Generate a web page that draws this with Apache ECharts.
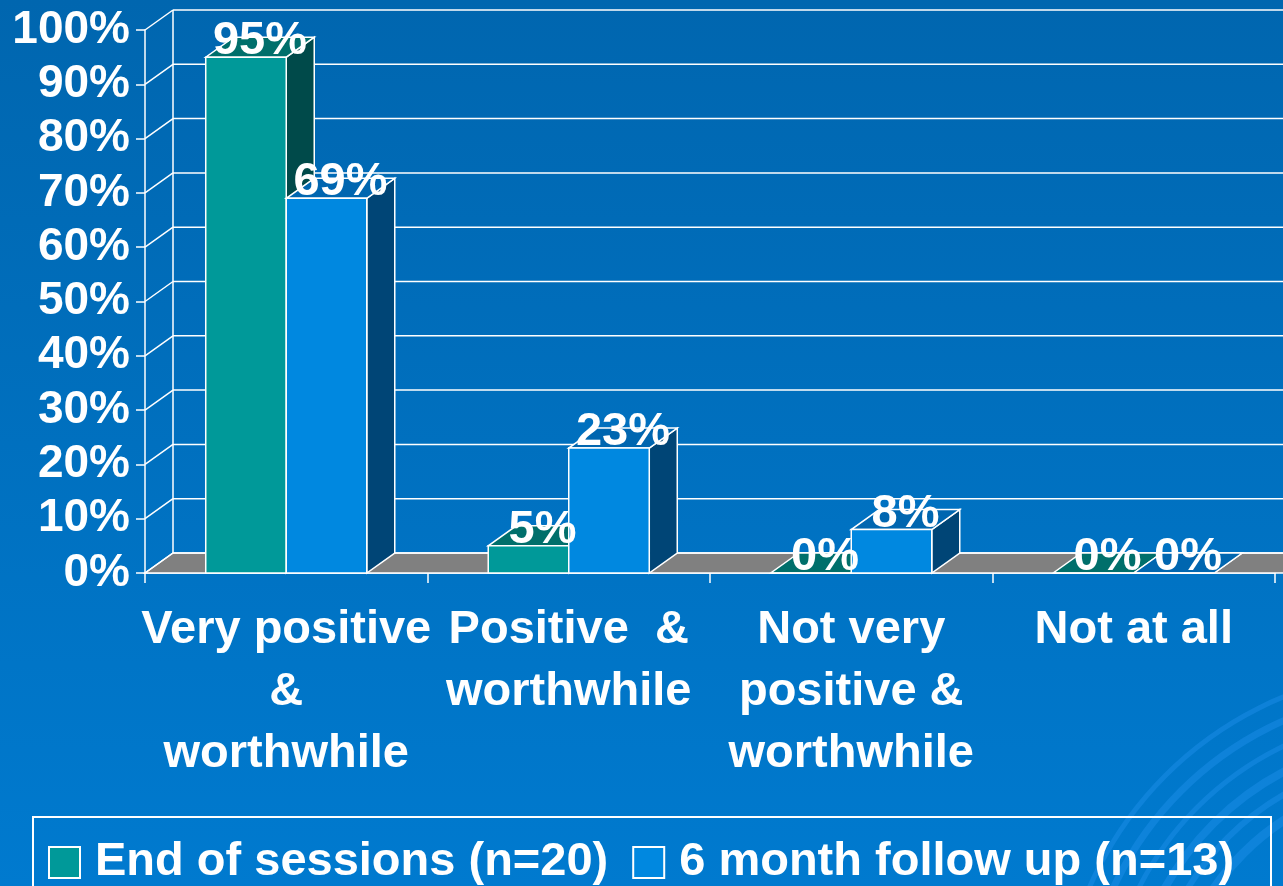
<!DOCTYPE html>
<html>
<head>
<meta charset="utf-8">
<script src="https://cdn.jsdelivr.net/npm/echarts@6/dist/echarts.min.js"></script>
<style>
html,body{margin:0;padding:0;width:1283px;height:886px;overflow:hidden;background:#006fbf;}
#chart{width:1283px;height:886px;}
</style>
</head>
<body>
<div id="chart"></div>
<script>
// ---- data ----
const categories = ['Very positive\n&\nworthwhile', 'Positive  &\nworthwhile', 'Not very\npositive &\nworthwhile', 'Not at all'];
const seriesNames = ['End of sessions (n=20)', '6 month follow up (n=13)'];
const endOfSessions = [95, 5, 0, 0];
const followUp = [69, 23, 8, 0];
const yTicks = [0, 10, 20, 30, 40, 50, 60, 70, 80, 90, 100];

// ---- style ----
const DX = 28, DY = -20;
const FONT = 'Liberation Sans, Arial, sans-serif';
const palettes = [
  { front: '#009999', top: '#006F6B', side: '#004A4A' },
  { front: '#0088E0', top: '#0066B0', side: '#004576' }
];

function barRenderer(si) {
  return function (params, api) {
    const idx = api.value(0), val = api.value(1);
    const base = api.coord([idx, 0]);
    const top = api.coord([idx, val]);
    const cw = api.size([1, 0])[0];
    const bw = cw * 0.285;
    const x = base[0] + (si === 0 ? -bw : 0);
    const yT = top[1], yB = base[1];
    const pal = palettes[si];
    const stroke = { stroke: '#ffffff', lineWidth: 1.5, lineJoin: 'miter' };
    return {
      type: 'group',
      children: [
        { type: 'polygon', z2: 10 + si, shape: { points: [[x + bw, yT], [x + bw + DX, yT + DY], [x + bw + DX, yB + DY], [x + bw, yB]] }, style: Object.assign({ fill: pal.side }, stroke) },
        { type: 'polygon', z2: 10 + si, shape: { points: [[x, yT], [x + bw, yT], [x + bw + DX, yT + DY], [x + DX, yT + DY]] }, style: Object.assign({ fill: pal.top }, stroke) },
        { type: 'rect', z2: 10 + si, shape: { x: x, y: yT, width: bw, height: yB - yT }, style: Object.assign({ fill: pal.front }, stroke) },
        { type: 'text', z2: 100, style: { text: val + '%', x: x + bw / 2 + DX / 2, y: yT - 16, align: 'center', verticalAlign: 'middle', fill: '#ffffff', font: 'bold 47px ' + FONT } }
      ]
    };
  };
}

function wallRenderer(params, api) {
  const cs = params.coordSys;
  const left = cs.x, right = cs.x + cs.width;
  const v = api.value(1);
  const y = api.coord([0, v])[1];
  const line = { stroke: '#ffffff', lineWidth: 1.5 };
  const children = [];
  if (v === 0) {
    const yTop = api.coord([0, yTicks[yTicks.length - 1]])[1];
    children.push({ type: 'polygon', z2: 1, shape: { points: [[left, y], [right + 60, y], [right + 60 + DX, y + DY], [left + DX, y + DY]] }, style: Object.assign({ fill: '#808080' }, line) });
    children.push({ type: 'line', z2: 2, shape: { x1: left + DX, y1: y + DY, x2: left + DX, y2: yTop + DY }, style: line });
  }
  children.push({ type: 'line', z2: 2, shape: { x1: left, y1: y, x2: left + DX, y2: y + DY }, style: line });
  children.push({ type: 'line', z2: 2, shape: { x1: left + DX, y1: y + DY, x2: right + DX + 60, y2: y + DY }, style: line });
  return { type: 'group', children: children };
}

const chart = echarts.init(document.getElementById('chart'), null, { renderer: 'canvas' });

const swirl = [];
[[250, 9], [272, 6], [292, 8], [315, 5], [338, 7], [360, 5]].forEach(function (a) {
  swirl.push({
    type: 'arc', silent: true, z: -10,
    shape: { cx: 1420, cy: 1030, r: a[0], startAngle: Math.PI * 1.05, endAngle: Math.PI * 1.45 },
    style: { stroke: 'rgba(30,145,235,0.45)', lineWidth: a[1], fill: null }
  });
});

chart.setOption({
  backgroundColor: {
    type: 'linear', x: 0, y: 0, x2: 0, y2: 1,
    colorStops: [{ offset: 0, color: '#0066AF' }, { offset: 1, color: '#007ACF' }]
  },
  animation: false,
  textStyle: { fontFamily: FONT },
  grid: { left: 145, right: 8, top: 30, bottom: 313, containLabel: false },
  xAxis: {
    type: 'category',
    data: categories,
    axisLine: { show: true, lineStyle: { color: '#ffffff', width: 1.5 } },
    axisTick: { show: true, length: 10, lineStyle: { color: '#ffffff', width: 1.5 } },
    axisLabel: { interval: 0, color: '#ffffff', fontSize: 47, fontWeight: 'bold', fontFamily: FONT, lineHeight: 62, margin: 26 },
    splitLine: { show: false }
  },
  yAxis: {
    type: 'value', min: 0, max: 100, interval: 10,
    axisLine: { show: true, lineStyle: { color: '#ffffff', width: 1.5 } },
    axisTick: { show: true, length: 9, lineStyle: { color: '#ffffff', width: 1.5 } },
    axisLabel: { formatter: '{value}%', color: '#ffffff', fontSize: 46, fontWeight: 'bold', fontFamily: FONT, margin: 15 },
    splitLine: { show: false }
  },
  legend: {
    left: 48, top: 839,
    itemWidth: 31, itemHeight: 31, itemGap: 24,
    padding: 0,
    icon: 'rect',
    itemStyle: { borderColor: '#ffffff', borderWidth: 2 },
    textStyle: { color: '#ffffff', fontSize: 47, fontWeight: 'bold', fontFamily: FONT, lineHeight: 32, padding: [0, 0, 0, 10] },
    data: seriesNames
  },
  graphic: swirl.concat([
    { type: 'rect', silent: true, z: -5, shape: { x: 33, y: 817, width: 1238, height: 100 }, style: { fill: null, stroke: '#ffffff', lineWidth: 2 } }
  ]),
  series: [
    { type: 'custom', name: '_walls', z: 1, clip: false, renderItem: wallRenderer, data: yTicks.map(function (v) { return [0, v]; }), encode: { x: 0, y: 1 }, silent: true },
    { type: 'custom', name: seriesNames[0], z: 3, clip: false, renderItem: barRenderer(0), itemStyle: { color: palettes[0].front }, data: endOfSessions.map(function (v, i) { return [i, v]; }), encode: { x: 0, y: 1 } },
    { type: 'custom', name: seriesNames[1], z: 3, clip: false, renderItem: barRenderer(1), itemStyle: { color: palettes[1].front }, data: followUp.map(function (v, i) { return [i, v]; }), encode: { x: 0, y: 1 } }
  ]
});
</script>
</body>
</html>
